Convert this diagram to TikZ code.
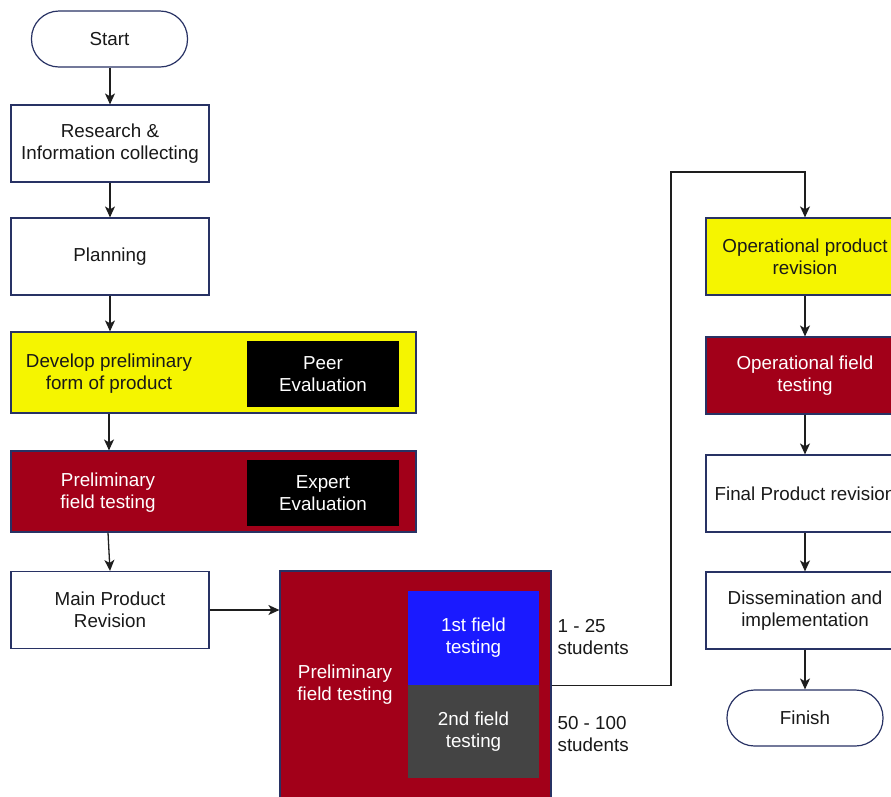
\documentclass[tikz,border=0pt]{standalone}
\usepackage{fontspec}
\setmainfont{Liberation Sans}
\usetikzlibrary{arrows.meta,positioning}
\definecolor{bordc}{RGB}{40,50,100}
\definecolor{arrc}{RGB}{30,30,30}
\definecolor{redf}{RGB}{162,0,25}
\definecolor{yelf}{RGB}{245,245,0}
\definecolor{bluef}{RGB}{26,26,255}
\definecolor{grayf}{RGB}{68,68,68}
\definecolor{txt}{RGB}{25,25,25}
\tikzset{
  x=1pt, y=-1pt,
  base/.style={font=\fontsize{18.8}{22}\selectfont, align=center, inner sep=0pt, line width=1.2pt},
  box/.style={base, draw=bordc, fill=white, text=txt, minimum width=198pt, minimum height=77pt},
  term/.style={base, draw=bordc, fill=white, text=txt, minimum width=156pt, minimum height=56pt, rounded corners=27.5pt},
  wide/.style={base, draw=bordc, minimum width=405pt, minimum height=81pt},
  blk/.style={base, fill=black, text=white, minimum width=152pt, minimum height=66pt},
  plain/.style={base},
  conn/.style={draw=arrc, line width=1.3pt, -{Stealth[length=11pt,width=10pt,inset=3pt]}},
}
\begin{document}
\begin{tikzpicture}
\useasboundingbox (0,0) rectangle (891,796);
\clip (0,0) rectangle (891,796);
% left column
\node[term] (start) at (109.5,39) {Start};
\node[box] (res) at (110,143.5) {Research \&\\Information collecting};
\node[box] (plan) at (110,256.5) {Planning};
\node[wide, fill=yelf] (dev) at (213.5,372.5) {};
\node[plain, text=txt] (devt) at (109,374) {Develop preliminary\\form of product};
\node[blk] (peer) at (323,374) {Peer\\Evaluation};
\node[wide, fill=redf] (pft) at (213.5,491.5) {};
\node[plain, text=white] (pftt) at (108,493) {Preliminary\\field testing};
\node[blk] (expert) at (323,493) {Expert\\Evaluation};
\node[box] (main) at (110,610) {Main Product\\Revision};
% big testing box
\node[base, draw=bordc, fill=redf, minimum width=271pt, minimum height=240pt] (big) at (415.5,691) {};
\node[plain, text=white] (bigt) at (345,685) {Preliminary\\field testing};
\node[base, fill=bluef, text=white, minimum width=131pt, minimum height=94pt] (t1) at (473.5,638) {1st field\\testing};
\node[base, fill=grayf, text=white, minimum width=131pt, minimum height=93pt] (t2) at (473.5,731.5) {2nd field\\testing};
\node[plain, text=txt, anchor=west, align=left] (l1) at (557,637) {1 - 25\\students};
\node[plain, text=txt, anchor=west, align=left] (l2) at (557,734) {50 - 100\\students};
% right column
\node[box, fill=yelf] (opr) at (805,256.5) {Operational product\\revision};
\node[box, fill=redf, text=white] (oft) at (805,375.5) {Operational field\\testing};
\node[box] (fpr) at (805,493.5) {Final Product revision};
\node[box] (dis) at (805,610.5) {Dissemination and\\implementation};
\node[term] (fin) at (805,718) {Finish};
\coordinate (k) at (671,172);
% connectors
\draw[conn] (start.south -| res.north) -- (res.north);
\draw[conn] (res) -- (plan);
\draw[conn] (plan.south) -- (plan.south |- dev.north);
\draw[conn] (devt |- dev.south) -- (devt |- pft.north);
\draw[conn] (pftt |- pft.south) -- (main.north);
\draw[conn] (main.east) -- (main.east -| big.west);
\draw[conn] (big.east |- t1.south) -| (k) -| (opr.north);
\draw[conn] (opr) -- (oft);
\draw[conn] (oft) -- (fpr);
\draw[conn] (fpr) -- (dis);
\draw[conn] (dis) -- (fin);
\end{tikzpicture}
\end{document}
